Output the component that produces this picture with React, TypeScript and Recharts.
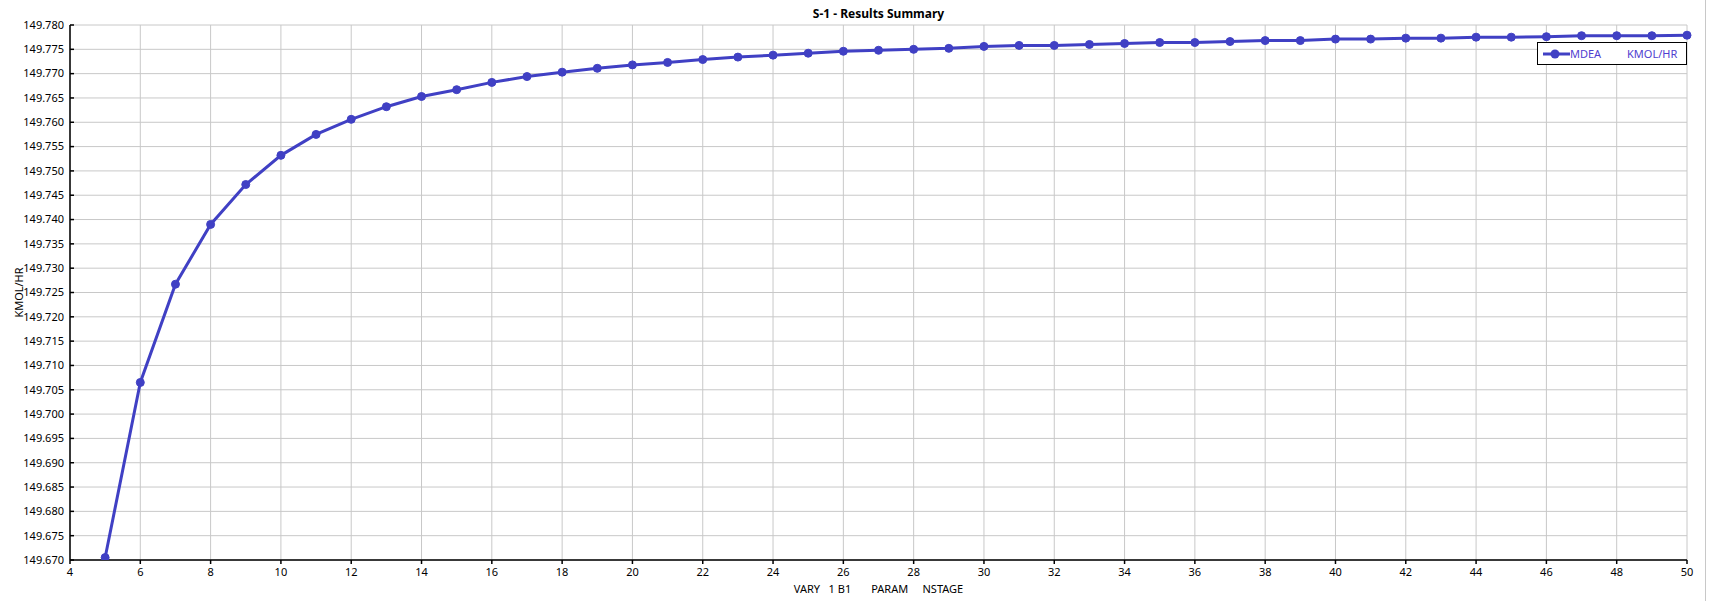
import React from 'react';
import { LineChart, Line, XAxis, YAxis, CartesianGrid } from 'recharts';

const stages = [
  5, 6, 7, 8, 9, 10, 11, 12, 13, 14, 15, 16, 17, 18, 19, 20, 21, 22, 23, 24, 25, 26, 27,
  28, 29, 30, 31, 32, 33, 34, 35, 36, 37, 38, 39, 40, 41, 42, 43, 44, 45, 46, 47, 48, 49, 50,
];

const mdeaFlow = [
  149.6705, 149.7065, 149.7267, 149.739, 149.7472, 149.7532, 149.7575, 149.7606, 149.7632,
  149.7653, 149.7667, 149.7682, 149.7694, 149.7703, 149.7711, 149.7718, 149.7723, 149.7729,
  149.7734, 149.7738, 149.7742, 149.7746, 149.7748, 149.775, 149.7752, 149.7756, 149.7758,
  149.7758, 149.776, 149.7762, 149.7764, 149.7764, 149.7766, 149.7768, 149.7768, 149.7771,
  149.7771, 149.7773, 149.7773, 149.7775, 149.7775, 149.7776, 149.7778, 149.7778, 149.7778,
  149.7779,
];

const xTicks = [
  4, 6, 8, 10, 12, 14, 16, 18, 20, 22, 24, 26, 28, 30, 32, 34, 36, 38, 40, 42, 44, 46, 48, 50,
];

const yTicks = [
  149.67, 149.675, 149.68, 149.685, 149.69, 149.695, 149.7, 149.705, 149.71, 149.715, 149.72,
  149.725, 149.73, 149.735, 149.74, 149.745, 149.75, 149.755, 149.76, 149.765, 149.77, 149.775,
  149.78,
];

const data = stages.map((s, i) => ({ stage: s, mdea: mdeaFlow[i] }));

const FONT = '"Noto Sans", "Open Sans", sans-serif';
const BLUE = '#4040c4';
const TEXT_BLUE = '#5040d0';

// y ticks in the original point into the plot, so draw them by hand
function YTick(props: any) {
  const { x, y, payload } = props;
  return (
    <g>
      <line x1={70} x2={74} y1={y} y2={y} stroke="#000" strokeWidth={1.5} />
      <text x={x} y={y} dy="0.35em" textAnchor="end" fontSize={11} fill="#000" fontFamily={FONT}>
        {Number(payload.value).toFixed(3)}
      </text>
    </g>
  );
}

function YLabel(props: any) {
  const { viewBox } = props;
  const cy = viewBox.y + viewBox.height / 2;
  return (
    <text
      x={18}
      y={cy}
      transform={`rotate(-90 18 ${cy})`}
      textAnchor="middle"
      dominantBaseline="central"
      fontSize={11}
      fontFamily={FONT}
      fill="#000"
    >
      KMOL/HR
    </text>
  );
}

function XLabel(props: any) {
  const { viewBox } = props;
  return (
    <text
      x={viewBox.x + viewBox.width / 2}
      y={593}
      textAnchor="middle"
      fontSize={11}
      fontFamily={FONT}
      fill="#000"
      style={{ whiteSpace: 'pre' }}
      xmlSpace="preserve"
    >
      {'VARY   1 B1       PARAM     NSTAGE'}
    </text>
  );
}

export default function App() {
  return (
    <div style={{ position: 'relative', width: 1709, height: 601, background: '#fff', fontFamily: FONT }}>
      <style>{`body{margin:0}`}</style>
      <div
        style={{
          position: 'absolute',
          left: 70,
          width: 1617,
          top: 5,
          textAlign: 'center',
          fontSize: 12,
          fontWeight: 700,
          color: '#000',
        }}
      >
        S-1 - Results Summary
      </div>
      <LineChart width={1709} height={601} data={data} margin={{ top: 25, right: 22, left: 0, bottom: 0 }}>
        <CartesianGrid stroke="#c8c8c8" strokeWidth={1} horizontalValues={yTicks} verticalValues={xTicks} />
        <XAxis
          dataKey="stage"
          type="number"
          domain={[4, 50]}
          ticks={xTicks}
          interval={0}
          height={41}
          tickSize={4}
          tickMargin={4}
          axisLine={{ stroke: '#000', strokeWidth: 1.5 }}
          tickLine={{ stroke: '#000', strokeWidth: 1.5 }}
          tick={{ fontSize: 11, fill: '#000', fontFamily: FONT }}
          label={<XLabel />}
        />
        <YAxis
          type="number"
          domain={[149.67, 149.78]}
          ticks={yTicks}
          interval={0}
          width={70}
          tickSize={4}
          tickMargin={2}
          allowDataOverflow
          axisLine={{ stroke: '#000', strokeWidth: 1.5 }}
          tickLine={false}
          tick={<YTick />}
          label={<YLabel />}
        />
        <Line
          type="linear"
          dataKey="mdea"
          stroke={BLUE}
          strokeWidth={3}
          dot={{ r: 4, fill: BLUE, stroke: BLUE, strokeWidth: 1 }}
          isAnimationActive={false}
        />
      </LineChart>
      <div
        style={{
          position: 'absolute',
          left: 1537,
          top: 42,
          width: 148,
          height: 21,
          border: '1px solid #000',
          background: '#fff',
          fontSize: 11,
          color: TEXT_BLUE,
        }}
      >
        <svg width={30} height={21} style={{ position: 'absolute', left: 5, top: 0 }}>
          <line x1={0} x2={27} y1={11} y2={11} stroke={BLUE} strokeWidth={3} />
          <circle cx={12} cy={11} r={4.5} fill={BLUE} />
        </svg>
        <span style={{ position: 'absolute', left: 32, top: 3 }}>MDEA</span>
        <span style={{ position: 'absolute', left: 89, top: 3 }}>KMOL/HR</span>
      </div>
      <div style={{ position: 'absolute', left: 1705, top: 0, width: 1, height: 601, background: '#c8c8c8' }} />
    </div>
  );
}
